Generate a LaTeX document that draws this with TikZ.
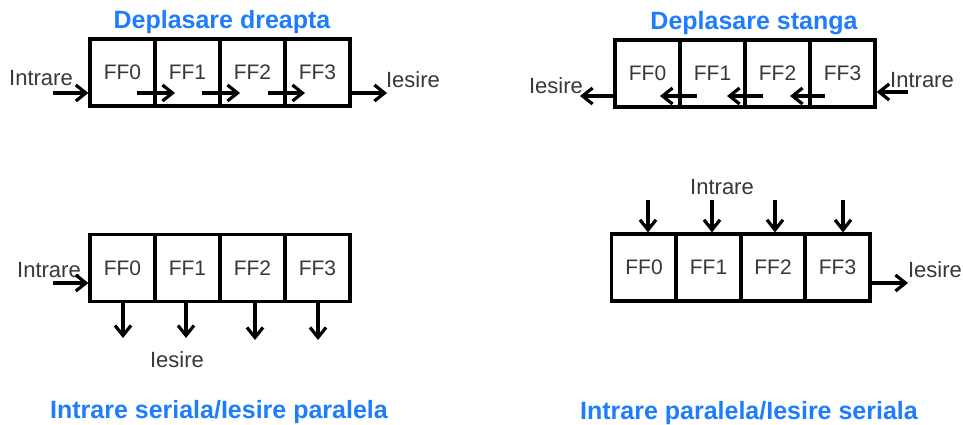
\documentclass[tikz,border=0pt]{standalone}
\usepackage{fontspec}
\setmainfont{Liberation Sans}
\usetikzlibrary{arrows.meta,calc}
\definecolor{ttl}{RGB}{30,125,255}
\definecolor{lbl}{RGB}{55,55,55}
\begin{document}
\begin{tikzpicture}[x=1pt,y=-1pt,
  ff/.style={draw=black,line width=3.2pt,minimum width=65pt,minimum height=67pt,inner sep=0pt,
    font=\fontsize{21}{21}\selectfont,text=lbl},
  lab/.style={font=\fontsize{22}{22}\selectfont,text=lbl,inner sep=0pt},
  ttlstyle/.style={font=\fontsize{25}{25}\selectfont\bfseries,text=ttl,inner sep=0pt},
  arr/.style={line width=3.2pt,-{Straight Barb[length=10pt,width=16pt]}}]
\useasboundingbox (0,0) rectangle (963,425);

% ---------- Q1: Deplasare dreapta ----------
\node[ttlstyle] (t1) at (222,22) {Deplasare dreapta};
\foreach \i/\n in {0/a,1/b,2/c,3/d}
  \node[ff] (q1\n) at (122.5+65*\i,72.5) {FF\i};
\node[lab] (q1inl) at (41,78) {Intrare};
\node[lab] (q1outl) at (413,80) {Iesire};
\coordinate (q1in) at (53,93);
\draw[arr] (q1in) -- (q1in -| q1a.west);
\coordinate (q1s1) at (137,93); \coordinate (q1e1) at (175,93);
\coordinate (q1s2) at (202,93); \coordinate (q1e2) at (240,93);
\coordinate (q1s3) at (268,93); \coordinate (q1e3) at (305,93);
\draw[arr] (q1s1) -- (q1e1);
\draw[arr] (q1s2) -- (q1e2);
\draw[arr] (q1s3) -- (q1e3);
\coordinate (q1out) at (387,93);
\draw[arr] (q1out -| q1d.east) -- (q1out);

% ---------- Q2: Deplasare stanga ----------
\node[ttlstyle] (t2) at (754,23) {Deplasare stanga};
\foreach \i/\n in {0/a,1/b,2/c,3/d}
  \node[ff] (q2\n) at (647.5+65*\i,73.5) {\raisebox{-8pt}{FF\i}};
\node[lab] (q2inl) at (922,80) {Intrare};
\node[lab] (q2outl) at (556,86) {Iesire};
\coordinate (q2in) at (908,92);
\draw[arr] (q2in) -- (q2in -| q2d.east);
\coordinate (q2s1) at (697,96); \coordinate (q2e1) at (660,96);
\coordinate (q2s2) at (763,96); \coordinate (q2e2) at (727,96);
\coordinate (q2s3) at (825,96); \coordinate (q2e3) at (790,96);
\draw[arr] (q2s1) -- (q2e1);
\draw[arr] (q2s2) -- (q2e2);
\draw[arr] (q2s3) -- (q2e3);
\coordinate (q2out) at (580,96);
\draw[arr] (q2out -| q2a.west) -- (q2out);

% ---------- Q3: Intrare seriala/Iesire paralela ----------
\node[ttlstyle] (t3) at (219,412) {Intrare seriala/Iesire paralela};
\foreach \i/\n in {0/a,1/b,2/c,3/d}
  \node[ff] (q3\n) at (122.5+65*\i,268) {FF\i};
\node[lab] (q3inl) at (49,270) {Intrare};
\node[lab] (q3outl) at (177,360) {Iesire};
\coordinate (q3in) at (53,283);
\draw[arr] (q3in) -- (q3in -| q3a.west);
\coordinate (q3o1) at (123,338);
\coordinate (q3o2) at (186,338);
\coordinate (q3o3) at (255,340);
\coordinate (q3o4) at (318,340);
\draw[arr] (q3o1 |- q3a.south) -- (q3o1);
\draw[arr] (q3o2 |- q3b.south) -- (q3o2);
\draw[arr] (q3o3 |- q3c.south) -- (q3o3);
\draw[arr] (q3o4 |- q3d.south) -- (q3o4);

% ---------- Q4: Intrare paralela/Iesire seriala ----------
\node[ttlstyle] (t4) at (749,413) {Intrare paralela/Iesire seriala};
\foreach \i/\n in {0/a,1/b,2/c,3/d}
  \node[ff] (q4\n) at (644+64.5*\i,267.5) {\raisebox{-3pt}{FF\i}};
\node[lab] (q4inl) at (722,187) {Intrare};
\node[lab] (q4outl) at (935,270) {Iesire};
\coordinate (q4i1) at (648,200);
\coordinate (q4i2) at (712,200);
\coordinate (q4i3) at (775,200);
\coordinate (q4i4) at (843,200);
\draw[arr] (q4i1) -- (q4i1 |- q4a.north);
\draw[arr] (q4i2) -- (q4i2 |- q4b.north);
\draw[arr] (q4i3) -- (q4i3 |- q4c.north);
\draw[arr] (q4i4) -- (q4i4 |- q4d.north);
\coordinate (q4out) at (908,283);
\draw[arr] (q4out -| q4d.east) -- (q4out);
\end{tikzpicture}
\end{document}
